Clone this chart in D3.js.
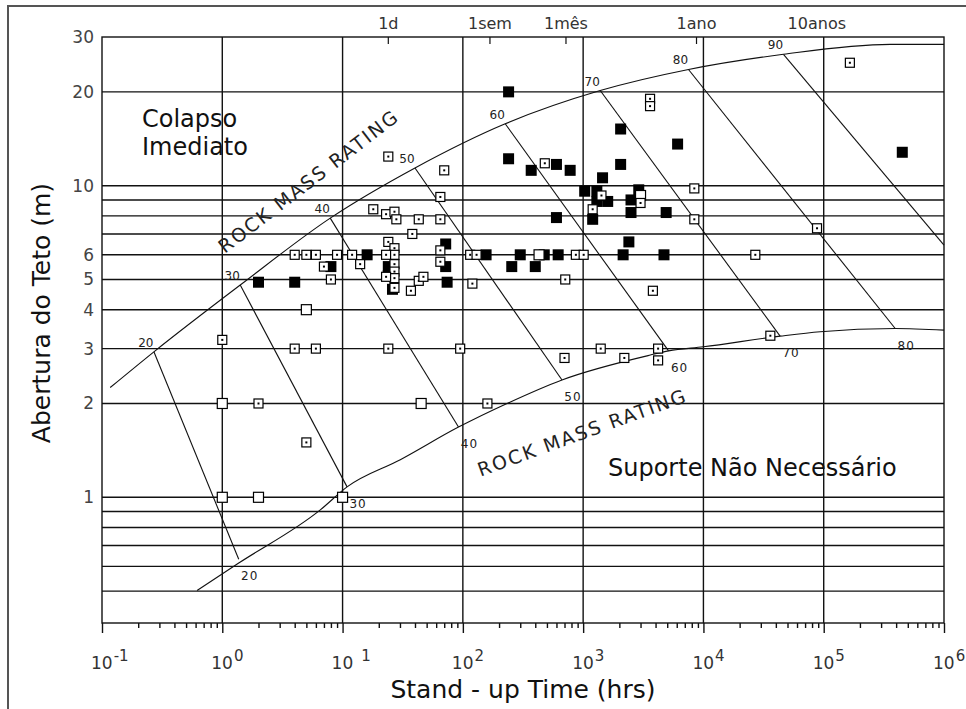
<!DOCTYPE html>
<html>
<head>
<meta charset="utf-8">
<script src="https://cdn.jsdelivr.net/npm/d3@7"></script>
<style>
  body { margin: 0; background: #fff; }
  svg { display: block; font-family: "DejaVu Sans", Verdana, sans-serif; }
</style>
</head>
<body>
<svg></svg>
<script>
'use strict';

// Case records: [stand-up time (hrs), span (m)]
var filledPoints = [
  [2, 4.9], [4, 4.9], [8, 5.5], [16, 6], [72, 6.5], [72, 5.5], [74, 4.9], [24, 5.5], [24, 5.15], [26, 4.65],
  [156, 6], [300, 6], [475, 6], [620, 6], [2150, 6], [4700, 6], [255, 5.5], [400, 5.5], [2400, 6.6],
  [240, 20], [240, 12.2], [370, 11.2], [600, 11.7], [780, 11.2], [1450, 10.6], [2050, 15.2], [2050, 11.7],
  [6100, 13.6], [450000, 12.8], [1030, 9.6], [1300, 9.6], [1300, 8.9], [1600, 8.9], [1200, 7.8],
  [2900, 9.7], [2500, 9], [2500, 8.2], [4900, 8.2], [600, 7.9]
];
var dottedPoints = [
  [24, 12.4], [70, 11.2], [65, 9.2], [18, 8.4], [23, 8.1], [27, 8.25], [28, 7.8], [43, 7.8], [65, 7.8],
  [38, 7.0], [24, 6.6], [27, 6.3], [27, 6.0], [23, 6], [4, 6], [5, 6], [6, 6], [9, 6], [12, 6], [7, 5.5],
  [14, 5.6], [8, 5], [27, 5.6], [27, 5.3], [27, 5.05], [27, 4.7], [23, 5.1], [65, 6.2], [65, 5.7],
  [120, 4.85], [115, 6], [130, 6], [37, 4.6], [43, 4.95], [47, 5.1], [870, 6], [1010, 6], [710, 5],
  [24, 3], [95, 3], [1400, 3], [700, 2.8], [2200, 2.8], [160, 2], [1, 3.2], [4, 3], [6, 3], [2, 2],
  [5, 1.5], [480, 11.8], [1420, 9.3], [1200, 8.4], [3000, 8.8], [8400, 9.8], [8400, 7.8], [3600, 19],
  [3600, 18], [165000, 24.8], [88000, 7.3], [27000, 6], [3800, 4.6], [36000, 3.3], [4200, 3], [4200, 2.75]
];
var openPoints = [[1, 1], [2, 1], [10, 1], [1, 2], [45, 2], [5, 4], [430, 6], [3000, 9.3]];

// Envelope curves and rock mass rating lines
var upperBound = [
  [0.117, 2.25], [0.27, 2.93], [1.41, 4.8], [7.9, 7.87], [40, 11.4], [225, 15.8], [1387, 20.2],
  [7516, 23.6], [46300, 26.4], [357000, 28.4], [1e6, 28.4]
];
var lowerBound = [
  [0.617, 0.502], [1.37, 0.615], [6.53, 0.911], [10.9, 1.08], [30.2, 1.32], [92, 1.68], [233, 2.0],
  [667, 2.38], [3614, 2.86], [5130, 2.95], [10000, 3.04], [43400, 3.29], [93600, 3.40], [393000, 3.48], [1e6, 3.44]
];
var rmrValues = [20, 30, 40, 50, 60, 70, 80, 90];
var rmrTop = [[0.27, 2.93], [1.41, 4.8], [7.9, 7.87], [40, 11.4], [225, 15.8], [1387, 20.2], [7516, 23.6], [46300, 26.4]];
var rmrBottom = [[1.37, 0.633], [10.9, 1.08], [92, 1.68], [667, 2.38], [5130, 2.95], [43400, 3.29], [393000, 3.48], [1e6, 6.45]];

// Axes
var spanGrid = [0.5, 0.6, 0.7, 0.8, 0.9, 1, 2, 3, 4, 5, 6, 7, 8, 9, 10, 20];
var spanTicks = [1, 2, 3, 4, 5, 6, 10, 20, 30];
var timeDecades = [0.1, 1, 10, 100, 1000, 1e4, 1e5, 1e6];
var timeMarks = [24, 168, 720, 8760, 87600];
var timeLabels = ['1d', '1sem', '1mês', '1ano', '10anos'];

var canvasWidth = 966;
var canvasHeight = 709;
var margin = { top: 37, right: 22, bottom: 86, left: 102 };
var width = canvasWidth - margin.left - margin.right;
var height = canvasHeight - margin.top - margin.bottom;

var svg = d3.select('svg')
  .attr('width', canvasWidth)
  .attr('height', canvasHeight);

// outer frame of the figure
svg.append('rect')
  .attr('x', 8).attr('y', 6)
  .attr('width', canvasWidth).attr('height', canvasHeight)
  .attr('fill', 'none').attr('stroke', '#555').attr('stroke-width', 2);

var g = svg.append('g')
  .attr('transform', 'translate(' + margin.left + ',' + margin.top + ')');

var xScale = d3.scaleLog().domain([0.1, 1e6]).range([0, width]);
var yScale = d3.scaleLog().domain([0.395, 30]).range([height, 0]);

// grid
g.selectAll('.hgrid').data(spanGrid).enter().append('line')
  .attr('class', 'hgrid')
  .attr('x1', 0).attr('x2', width)
  .attr('y1', function(d) { return yScale(d); })
  .attr('y2', function(d) { return yScale(d); })
  .attr('stroke', '#111').attr('stroke-width', 1.4);

g.selectAll('.vgrid').data(timeDecades.slice(1, -1)).enter().append('line')
  .attr('class', 'vgrid')
  .attr('x1', function(d) { return xScale(d); })
  .attr('x2', function(d) { return xScale(d); })
  .attr('y1', 0).attr('y2', height)
  .attr('stroke', '#111').attr('stroke-width', 1.4);

g.append('rect')
  .attr('width', width).attr('height', height)
  .attr('fill', 'none').attr('stroke', '#111').attr('stroke-width', 1.4);

// bottom axis: major and minor ticks
var minorTicks = [];
timeDecades.slice(0, -1).forEach(function(d) {
  for (var k = 2; k < 10; k++) { minorTicks.push(d * k); }
});

var xMajor = g.append('g')
  .attr('transform', 'translate(0,' + height + ')')
  .call(d3.axisBottom(xScale).tickValues(timeDecades).tickSize(10).tickFormat(''));
var xMinor = g.append('g')
  .attr('transform', 'translate(0,' + height + ')')
  .call(d3.axisBottom(xScale).tickValues(minorTicks).tickSize(5).tickFormat(''));
[xMajor, xMinor].forEach(function(ax) {
  ax.select('.domain').remove();
  ax.selectAll('line').attr('stroke', '#111').attr('stroke-width', 1.4);
});

var expLabels = g.selectAll('.explabel').data(timeDecades).enter().append('text')
  .attr('class', 'explabel')
  .attr('x', function(d) { return xScale(d) - 11; })
  .attr('y', height + 46)
  .attr('font-size', 17)
  .attr('fill', '#333')
  .text('10');
expLabels.append('tspan')
  .attr('dy', -8)
  .attr('dx', function(d) { return Math.round(Math.log10(d)) === 1 ? 8 : 1; })
  .attr('font-size', 15)
  .text(function(d) { return String(Math.round(Math.log10(d))); });

// top time marks
g.selectAll('.tmark').data(timeMarks.slice(0, -1)).enter().append('line')
  .attr('class', 'tmark')
  .attr('x1', function(d) { return xScale(d); })
  .attr('x2', function(d) { return xScale(d); })
  .attr('y1', 0).attr('y2', 7)
  .attr('stroke', '#111').attr('stroke-width', 1.2);

g.selectAll('.tlabel').data(timeMarks).enter().append('text')
  .attr('class', 'tlabel')
  .attr('x', function(d) { return xScale(d); })
  .attr('y', -8)
  .attr('text-anchor', 'middle')
  .attr('font-size', 16)
  .attr('fill', '#333')
  .text(function(d, i) { return timeLabels[i]; });

// left axis
var yAxis = g.append('g')
  .call(d3.axisLeft(yScale).tickValues(spanTicks).tickSize(0).tickPadding(8).tickFormat(d3.format('d')));
yAxis.select('.domain').remove();
yAxis.selectAll('text')
  .attr('font-size', 17)
  .attr('font-family', '"DejaVu Sans", Verdana, sans-serif')
  .attr('fill', '#444');

// envelopes and RMR lines
var line = d3.line()
  .x(function(d) { return xScale(d[0]); })
  .y(function(d) { return yScale(d[1]); })
  .curve(d3.curveMonotoneX);

[upperBound, lowerBound].forEach(function(curve) {
  g.append('path')
    .attr('d', line(curve))
    .attr('fill', 'none').attr('stroke', '#111').attr('stroke-width', 1.1);
});

g.selectAll('.rmr').data(rmrValues).enter().append('line')
  .attr('class', 'rmr')
  .attr('x1', function(d, i) { return xScale(rmrTop[i][0]); })
  .attr('y1', function(d, i) { return yScale(rmrTop[i][1]); })
  .attr('x2', function(d, i) { return xScale(rmrBottom[i][0]); })
  .attr('y2', function(d, i) { return yScale(rmrBottom[i][1]); })
  .attr('stroke', '#111').attr('stroke-width', 1.1);

g.selectAll('.rmrTop').data(rmrValues).enter().append('text')
  .attr('class', 'rmrTop')
  .attr('x', function(d, i) { return xScale(rmrTop[i][0]) - 8; })
  .attr('y', function(d, i) { return yScale(rmrTop[i][1]) - 5; })
  .attr('text-anchor', 'middle')
  .attr('font-size', 12)
  .attr('fill', '#222')
  .text(function(d) { return d; });

g.selectAll('.rmrBottom').data(rmrValues.slice(0, -1)).enter().append('text')
  .attr('class', 'rmrBottom')
  .attr('x', function(d, i) { return xScale(rmrBottom[i][0]) + 11; })
  .attr('y', function(d, i) { return yScale(rmrBottom[i][1]) + 21; })
  .attr('text-anchor', 'middle')
  .attr('font-size', 12)
  .attr('letter-spacing', 1)
  .attr('fill', '#222')
  .text(function(d) { return d; });

// rotated "ROCK MASS RATING" labels
g.append('text')
  .attr('transform', 'translate(' + xScale(5.65) + ',' + yScale(9.93) + ') rotate(-37.5)')
  .attr('text-anchor', 'middle')
  .attr('font-size', 19).attr('letter-spacing', 2).attr('fill', '#222')
  .text('ROCK MASS RATING');
g.append('text')
  .attr('transform', 'translate(' + xScale(1030) + ',' + yScale(1.54) + ') rotate(-20)')
  .attr('text-anchor', 'middle')
  .attr('font-size', 19).attr('letter-spacing', 2).attr('fill', '#222')
  .text('ROCK MASS RATING');

// region notes
g.append('text').attr('x', 40).attr('y', 90).attr('font-size', 24).attr('fill', '#111').text('Colapso');
g.append('text').attr('x', 40).attr('y', 118).attr('font-size', 24).attr('fill', '#111').text('Imediato');
g.append('text').attr('x', 506).attr('y', 439).attr('font-size', 24).attr('fill', '#111').text('Suporte Não Necessário');

// case points
g.selectAll('.filled').data(filledPoints).enter().append('rect')
  .attr('class', 'filled')
  .attr('x', function(d) { return xScale(d[0]) - 5.5; })
  .attr('y', function(d) { return yScale(d[1]) - 5.5; })
  .attr('width', 11).attr('height', 11)
  .attr('fill', '#000');

g.selectAll('.open').data(openPoints).enter().append('rect')
  .attr('class', 'open')
  .attr('x', function(d) { return xScale(d[0]) - 5; })
  .attr('y', function(d) { return yScale(d[1]) - 5; })
  .attr('width', 10).attr('height', 10)
  .attr('fill', '#fff').attr('stroke', '#000').attr('stroke-width', 1.2);

var dots = g.selectAll('.dotted').data(dottedPoints).enter().append('g')
  .attr('class', 'dotted')
  .attr('transform', function(d) { return 'translate(' + xScale(d[0]) + ',' + yScale(d[1]) + ')'; });
dots.append('rect')
  .attr('x', -4.5).attr('y', -4.5).attr('width', 9).attr('height', 9)
  .attr('fill', '#fff').attr('stroke', '#000').attr('stroke-width', 1.2);
dots.append('rect')
  .attr('x', -1).attr('y', -1).attr('width', 2).attr('height', 2)
  .attr('fill', '#000');

// axis titles
svg.append('text')
  .attr('transform', 'translate(50,313) rotate(-90)')
  .attr('text-anchor', 'middle')
  .attr('font-size', 25).attr('fill', '#111')
  .text('Abertura do Teto (m)');
svg.append('text')
  .attr('x', margin.left + width / 2)
  .attr('y', 698)
  .attr('text-anchor', 'middle')
  .attr('font-size', 25).attr('fill', '#111')
  .text('Stand - up Time (hrs)');
</script>
</body>
</html>
